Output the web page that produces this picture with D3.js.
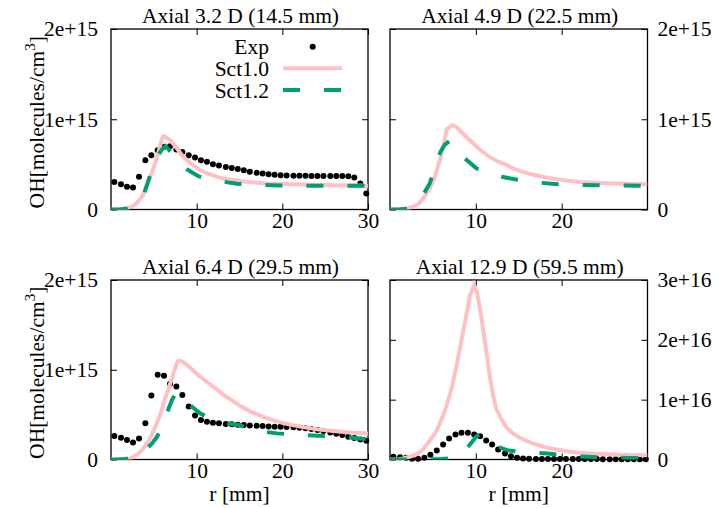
<!DOCTYPE html>
<html>
<head>
<meta charset="utf-8">
<script src="https://cdn.jsdelivr.net/npm/d3@7"></script>
<style>
  body { margin: 0; background: #fff; }
  svg { display: block; }
</style>
</head>
<body>
<div id="chart"></div>
<script>
var width = 717,
    height = 508;

// radial positions of the measured points (mm)
var expR = [0.39,1.17,1.87,2.57,3.27,4.01,4.71,5.45,6.19,6.89,7.63,8.33,9.07,9.81,10.5,11.2,11.9,12.6,13.4,14.1,
            14.8,15.5,16.2,17.0,17.7,18.4,19.1,19.8,20.5,21.3,22.0,22.7,23.4,24.1,24.8,25.6,26.3,27.0,27.7,28.4,29.1,29.8];

// measured OH, top-left / bottom-left in 1e15, bottom-right in 1e16
var expA = [0.306,0.280,0.251,0.244,0.362,0.546,0.601,0.657,0.694,0.701,0.664,0.638,0.601,0.576,0.546,0.528,0.502,0.487,0.472,0.461,
            0.450,0.435,0.417,0.406,0.398,0.391,0.384,0.380,0.376,0.374,0.373,0.373,0.372,0.372,0.372,0.372,0.372,0.372,0.369,0.354,0.288,0.177];
var expC = [0.261,0.243,0.216,0.190,0.235,0.403,0.713,0.944,0.933,0.843,0.813,0.720,0.590,0.489,0.440,0.422,0.410,0.403,0.396,0.392,
            0.388,0.384,0.380,0.377,0.373,0.369,0.366,0.366,0.362,0.358,0.354,0.347,0.340,0.328,0.317,0.302,0.287,0.272,0.254,0.239,0.224,0.209];
var expD = [0.045,0.039,0.028,0.011,0.011,0.028,0.078,0.150,0.250,0.351,0.418,0.446,0.446,0.418,0.390,0.318,0.250,0.167,0.100,0.056,
            0.028,0.015,0.012,0.010,0.010,0.010,0.009,0.009,0.008,0.008,0.008,0.007,0.007,0.007,0.006,0.006,0.006,0.006,0.005,0.005,0.005,0.005];

// simulations [r, OH]
var sct10A = [[0,0],[1,0.002],[1.87,0.011],[2.5,0.035],[3.04,0.074],[3.5,0.13],[3.81,0.177],[4.2,0.26],[4.59,0.362],[5.0,0.47],
  [5.37,0.583],[5.7,0.69],[5.95,0.786],[6.15,0.812],[6.4,0.80],[6.93,0.768],[7.7,0.675],[8.3,0.60],[8.87,0.546],[9.6,0.49],
  [10.4,0.435],[11.4,0.395],[12.4,0.362],[13.3,0.34],[14.3,0.325],[15.3,0.312],[16.3,0.303],[18.2,0.288],[20,0.282],[22.1,0.277],
  [24,0.273],[25.9,0.269],[28,0.265],[30,0.262]];
var sct12A = [[0,0],[1,0.001],[1.87,0.01],[2.5,0.03],[3.04,0.07],[3.5,0.13],[3.85,0.177],[4.3,0.3],[4.7,0.42],[5.1,0.52],
  [5.5,0.6],[5.9,0.66],[6.35,0.70],[6.7,0.67],[7.2,0.61],[7.8,0.53],[8.7,0.454],[10.2,0.369],[11.5,0.33],[13,0.31],
  [14.7,0.285],[17.6,0.272],[19.6,0.266],[22.5,0.264],[27,0.262],[30,0.262]];

var sct10B = [[0,0],[1,0.002],[1.9,0.008],[2.5,0.025],[3.07,0.048],[3.5,0.08],[3.85,0.122],[4.2,0.17],[4.63,0.232],[5.0,0.31],
  [5.21,0.362],[5.5,0.45],[5.8,0.546],[6.1,0.66],[6.38,0.768],[6.58,0.886],[6.9,0.91],[7.28,0.934],[7.6,0.92],[7.94,0.897],
  [8.4,0.85],[8.9,0.804],[9.5,0.75],[10.1,0.694],[10.8,0.64],[11.6,0.583],[12.6,0.53],[13.6,0.491],[14.5,0.45],[15.5,0.417],
  [16.5,0.39],[17.5,0.369],[18.5,0.35],[19.4,0.336],[20.7,0.32],[22.1,0.306],[24,0.296],[26,0.288],[28,0.283],[30,0.280]];
var sct12B = [[0,0],[1,0.001],[2,0.01],[2.5,0.03],[3.0,0.07],[3.4,0.11],[3.85,0.159],[4.2,0.22],[4.63,0.288],[5.1,0.43],
  [5.6,0.583],[6.0,0.66],[6.4,0.72],[6.9,0.755],[7.3,0.73],[7.8,0.66],[8.72,0.565],[10.1,0.454],[11.5,0.4],[13.0,0.362],
  [14.7,0.332],[16.2,0.31],[17.7,0.295],[19.6,0.280],[22.3,0.273],[25,0.268],[27,0.266],[30,0.264]];

var sct10C = [[0,0],[1,0.002],[2.3,0.011],[3.23,0.067],[3.7,0.115],[4.2,0.179],[4.7,0.26],[5.18,0.366],[5.7,0.49],[6.15,0.627],
  [6.6,0.76],[7.12,0.907],[7.5,1.02],[7.78,1.093],[8.0,1.10],[8.4,1.085],[8.87,1.056],[9.6,0.99],[10.4,0.925],[11.4,0.85],
  [12.4,0.776],[13.3,0.71],[14.3,0.646],[15.3,0.585],[16.3,0.534],[17.3,0.495],[18.2,0.459],[19.2,0.43],[20.2,0.403],[21.2,0.383],
  [22.1,0.366],[24.0,0.336],[26.0,0.317],[27.9,0.302],[30,0.291]];
var sct12C = [[0,0],[1,0.001],[2,0.008],[3,0.04],[3.6,0.08],[4.2,0.123],[4.8,0.18],[5.37,0.254],[5.9,0.35],[6.34,0.44],
  [6.7,0.56],[7.12,0.664],[7.5,0.73],[7.8,0.75],[8.2,0.72],[8.6,0.67],[9.07,0.619],[10.4,0.515],[11.5,0.46],[12.3,0.43],
  [13.2,0.41],[14.9,0.384],[16.3,0.34],[17.8,0.31],[19.4,0.291],[21,0.28],[22.5,0.272],[24.2,0.265],[25.7,0.26],[27.2,0.254],
  [28.9,0.235],[30,0.228]];

var sct10D = [[0,0],[1,0.004],[1.5,0.017],[2.3,0.045],[3.07,0.084],[3.85,0.167],[4.6,0.31],[5.4,0.47],[6.0,0.67],[6.58,0.891],
  [7.2,1.2],[7.74,1.56],[8.2,1.9],[8.72,2.28],[9.3,2.73],[9.8,2.92],[10.1,2.81],[10.47,2.53],[10.86,2.17],[11.25,1.78],
  [11.63,1.39],[12.02,1.06],[12.41,0.836],[13.0,0.669],[13.6,0.529],[14.3,0.44],[15.1,0.362],[16.1,0.3],[17.1,0.25],[18.2,0.2],
  [19.4,0.167],[20.7,0.135],[22.1,0.111],[24,0.096],[26.0,0.084],[28,0.077],[30,0.072]];
var sct12D = [[0,0],[2,0.0],[4,0.002],[6,0.008],[7,0.02],[8,0.06],[8.6,0.12],[9.0,0.195],[9.6,0.30],[10.16,0.40],
  [10.5,0.42],[11.0,0.38],[11.5,0.32],[12.2,0.234],[13.0,0.19],[13.8,0.15],[15.3,0.128],[16.9,0.111],[18.4,0.1],[20,0.075],
  [21.6,0.056],[23.1,0.045],[25,0.035],[26.2,0.028],[28,0.026],[30,0.024]];

var titles = ["Axial 3.2 D (14.5 mm)", "Axial 4.9 D (22.5 mm)", "Axial 6.4 D (29.5 mm)", "Axial 12.9 D (59.5 mm)"];
var legendLabels = ["Exp", "Sct1.0", "Sct1.2"];
var xTicksLeft = [10, 20, 30], xTicksRight = [10, 20];
var yTicks15 = [0, 1, 2], yTickLabels15 = ["0", "1e+15", "2e+15"];
var yTicks16 = [0, 1, 2, 3], yTickLabels16 = ["0", "1e+16", "2e+16", "3e+16"];

var font = "'Liberation Serif', 'Times New Roman', serif",
    fs = 21.5,
    pink = "#ffc0c4",
    green = "#009e73",
    dash = "17,24";

var svg = d3.select("#chart").append("svg")
  .attr("width", width)
  .attr("height", height)
  .style("font-family", font);

svg.append("rect").attr("width", width).attr("height", height).attr("fill", "#fff");

var panels = [
  {x: [111, 368], y: [29, 209.5], ymax: 2, yt: yTicks15, yl: yTickLabels15, side: "left", xt: xTicksLeft,
   title: titles[0], exp: expA, s10: sct10A, s12: sct12A, legend: true, xlabel: false},
  {x: [390, 647.5], y: [29, 209.5], ymax: 2, yt: yTicks15, yl: yTickLabels15, side: "right", xt: xTicksRight,
   title: titles[1], exp: null, s10: sct10B, s12: sct12B, legend: false, xlabel: false},
  {x: [111, 368], y: [280, 459.5], ymax: 2, yt: yTicks15, yl: yTickLabels15, side: "left", xt: xTicksLeft,
   title: titles[2], exp: expC, s10: sct10C, s12: sct12C, legend: false, xlabel: true},
  {x: [390, 647.5], y: [280, 459.5], ymax: 3, yt: yTicks16, yl: yTickLabels16, side: "right", xt: xTicksRight,
   title: titles[3], exp: expD, s10: sct10D, s12: sct12D, legend: false, xlabel: true}
];

panels.forEach(function(p, i) {
  var x = d3.scaleLinear().domain([0, 30]).range(p.x);
  var y = d3.scaleLinear().domain([0, p.ymax]).range([p.y[1], p.y[0]]);
  var g = svg.append("g");

  g.append("clipPath").attr("id", "clip" + i)
    .append("rect")
    .attr("x", p.x[0]).attr("y", p.y[0])
    .attr("width", p.x[1] - p.x[0]).attr("height", p.y[1] - p.y[0]);

  // axes with inward ticks on all four sides
  var fmt = function(d) { return p.yl[p.yt.indexOf(d)]; };
  var axL = d3.axisLeft(y).tickValues(p.yt).tickSizeInner(-6).tickSizeOuter(0).tickPadding(13)
    .tickFormat(p.side == "left" ? fmt : "");
  var axR = d3.axisRight(y).tickValues(p.yt).tickSizeInner(-6).tickSizeOuter(0).tickPadding(10)
    .tickFormat(p.side == "right" ? fmt : "");
  var axB = d3.axisBottom(x).tickValues(p.xt).tickSizeInner(-6).tickSizeOuter(0).tickFormat(d3.format("d"));
  var axT = d3.axisTop(x).tickValues(p.xt).tickSizeInner(-6).tickSizeOuter(0).tickFormat("");

  [[axL, "translate(" + p.x[0] + ",0)"], [axR, "translate(" + p.x[1] + ",0)"],
   [axB, "translate(0," + p.y[1] + ")"], [axT, "translate(0," + p.y[0] + ")"]].forEach(function(a) {
    var ag = g.append("g").attr("transform", a[1]).call(a[0]);
    ag.attr("font-family", font).attr("font-size", fs);
    ag.select(".domain").remove();
    ag.selectAll("line").attr("stroke", "#000").attr("stroke-width", 1);
    ag.selectAll("text").attr("fill", "#000");
  });
  g.selectAll("text").filter(function() { return false; });

  // x tick labels baseline
  g.selectAll("g").filter(function(d, j) { return j == 2; });

  g.append("rect")
    .attr("x", p.x[0]).attr("y", p.y[0])
    .attr("width", p.x[1] - p.x[0]).attr("height", p.y[1] - p.y[0])
    .attr("fill", "none").attr("stroke", "#000").attr("stroke-width", 1.3);

  // measured points
  if (p.exp) {
    g.selectAll("circle.exp")
      .data(p.exp.map(function(v, k) { return [expR[k], v]; }))
      .enter().append("circle")
      .attr("class", "exp")
      .attr("cx", function(d) { return x(d[0]); })
      .attr("cy", function(d) { return y(d[1]); })
      .attr("r", 3)
      .attr("fill", "#000");
  }

  var line = d3.line()
    .x(function(d) { return x(d[0]); })
    .y(function(d) { return y(d[1]); });

  g.append("path").datum(p.s10)
    .attr("d", line)
    .attr("clip-path", "url(#clip" + i + ")")
    .attr("fill", "none").attr("stroke", pink).attr("stroke-width", 4);
  g.append("path").datum(p.s12)
    .attr("d", line)
    .attr("clip-path", "url(#clip" + i + ")")
    .attr("fill", "none").attr("stroke", green).attr("stroke-width", 4)
    .attr("stroke-dasharray", dash);

  svg.append("text")
    .attr("x", (p.x[0] + p.x[1]) / 2 + 1)
    .attr("y", p.y[0] - 6)
    .attr("text-anchor", "middle")
    .attr("font-size", fs)
    .text(p.title);

  if (p.side == "left") {
    var t = svg.append("text")
      .attr("transform", "translate(44," + ((p.y[0] + p.y[1]) / 2 + 3) + ") rotate(-90)")
      .attr("text-anchor", "middle")
      .attr("font-size", fs);
    t.append("tspan").text("OH[molecules/cm");
    t.append("tspan").attr("dy", -9).attr("font-size", 15).text("3");
    t.append("tspan").attr("dy", 9).text("]");
  }

  if (p.xlabel) {
    svg.append("text")
      .attr("x", (p.x[0] + p.x[1]) / 2)
      .attr("y", 500.5)
      .attr("text-anchor", "middle")
      .attr("font-size", fs)
      .text("r [mm]");
  }

  if (p.legend) {
    var lg = svg.append("g").attr("font-size", fs);
    var rows = [54.3, 76, 97.8];
    legendLabels.forEach(function(l, k) {
      lg.append("text").attr("x", 269).attr("y", rows[k]).attr("text-anchor", "end").text(l);
    });
    lg.append("circle").attr("cx", 312.7).attr("cy", rows[0] - 7.6).attr("r", 3).attr("fill", "#000");
    lg.append("line").attr("x1", 283).attr("x2", 342).attr("y1", rows[1] - 7.7).attr("y2", rows[1] - 7.7)
      .attr("stroke", pink).attr("stroke-width", 4);
    lg.append("line").attr("x1", 283).attr("x2", 342).attr("y1", rows[2] - 7.7).attr("y2", rows[2] - 7.7)
      .attr("stroke", green).attr("stroke-width", 4).attr("stroke-dasharray", dash);
  }
});

// put x tick labels at the gnuplot baseline
svg.selectAll(".tick text").each(function() {
  var el = d3.select(this);
  if (el.attr("dy") == "0.71em") el.attr("y", 18.5).attr("dy", null);
});
</script>
</body>
</html>
